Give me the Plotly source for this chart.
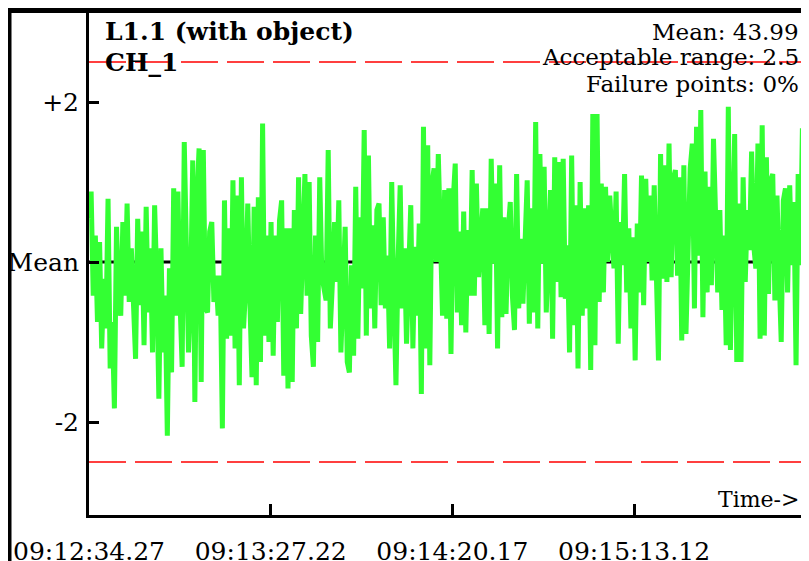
import plotly.graph_objects as go

# ---- data (deviation from mean) ----
seg1 = [0.54, 0.88, -0.42, 0.33, -0.75, 0.25, -1.08, -0.21, -0.83, 0.79, -1.33, -0.75, -1.83, 0.44,
        -0.50, -0.67, 0.50, -0.42, 0.73, -0.50, 0.17, -0.71, -1.21, 0.54, -0.54, 0.38, -1.04, 0.69,
        -0.63, 0.17, -1.13, 0.71, -0.21, -1.71, 0.17, -1.13, -0.42, -2.17, -0.08, -1.38, 0.92, -0.67,
        0.88, -0.50, -1.31, 1.50, 0.25, -1.13, -0.42, 1.27, -1.75, 0.79, 1.42, -1.50, 1.40]
seg2 = [-0.58, -0.63, 0.38, 0.50, -0.50, -0.17, -0.67, -0.17, -2.08, 0.77, -0.96, 0.42, -0.92, 1.02,
        -1.08, 0.83, -1.54, 1.06, -0.83, -0.33, 0.73, -0.50, -1.44, 0.69, -1.54, 0.81, -1.25, 1.73,
        -0.92, 0.33, -1.00, 0.50, -1.17, 0.33, -0.75, 0.52, 0.77, -1.42, 0.42, -1.58, 0.42, -1.50,
        0.65, -0.83, 1.06, -0.65, 0.50, 1.10, -0.42, 1.00, -0.92, -1.31, 0.33, -1.00, 1.06]
seg3 = [-0.17, -0.33, -0.48, 1.40, -0.83, -0.25, 0.50, -0.25, 0.77, -1.13, -0.13, 0.44, -1.25, -1.38,
        -0.04, -1.17, 0.94, -0.96, 0.56, -0.33, 1.65, -0.92, 1.33, -0.58, 0.46, -0.83, 0.65, 0.73,
        -0.54, 0.56, -0.58, 0.08, -1.08, 1.00, -0.42, -1.54, 0.00, 0.96, -0.58, 0.17, -1.02, 0.17,
        0.71, -1.08, 0.19, -0.67, 0.48, -1.65, 1.69, -1.08, 1.46, -1.29, 0.98, 1.17, 0.00, 1.35,
        -0.08, -0.67, 0.90]
seg4 = [-0.71, 0.92, -1.15, 0.75, 1.23, -0.63, 0.38, -0.79, 0.63, -0.88, 0.40, -0.42, 1.15, -0.42,
        0.98, -0.19, 0.40, 0.67, -0.79, 0.67, -0.90, 1.29, -0.02, 0.98, -1.08, 1.21, -0.69, 0.56,
        -0.65, 0.38, 0.75, -0.42, -0.85, 1.10, -0.58, 0.29, -0.52, 0.13, 1.02, -0.77, 0.67, -0.63,
        1.75, -0.83, 1.35, -0.02, 1.19, -0.63, 0.04, 0.90, -0.96, 1.31, -0.25, 1.25, -0.44, 1.29,
        -0.46, 0.21, -1.13, 1.33]
seg5 = [-0.79, 0.71, -1.33, 1.00, -0.67, 0.67, -0.58, 0.71, -1.35, 1.85, -1.04, 1.85, -0.50, 0.98,
        -0.38, 0.94, 0.00, 0.83, 0.33, -0.08, 0.88, -1.02, 0.50, -0.04, 1.10, -0.38, 0.42, -0.83,
        0.31, -1.23, 0.48, -0.38, 1.08, -0.54, 1.04, 0.00, 0.83, -0.23, 0.96, 0.02, -1.23, 1.35,
        -0.21, 1.21, -0.25, 1.48, -0.19, 1.04, 1.15, -0.17, 1.06, -0.98, 1.21, -0.90, 0.17, 1.17, 1.48]
seg6 = [-0.58, 1.69, 0.08, 1.90, -0.69, 1.13, -0.38, 0.94, -0.29, 1.54, 0.33, -0.38, 0.65, -0.60,
        0.33, -1.04, 1.94, -1.10, 0.29, 1.60, -1.25, 0.73, -1.25, 1.06, -0.25, 0.65, 0.15, 1.38,
        0.21, -0.08, 1.48, -0.96, 1.71, -0.92, 1.31, -0.40, 1.02, 1.10, -0.48, 0.83, -0.15, -1.00,
        0.77, 0.92, -0.38, 0.96, -0.04, 0.75, -1.29, 1.10, -0.04, 1.67, -0.33, 0.92, -0.42]
deviation = seg1 + seg2 + seg3 + seg4 + seg5 + seg6

SAMPLE_INTERVAL = 0.617          # seconds between samples
time_s = [i * SAMPLE_INTERVAL for i in range(len(deviation))]

tick_seconds = [0.0, 52.95, 105.90, 158.85]
tick_labels = ["09:12:34.27", "09:13:27.22", "09:14:20.17", "09:15:13.12"]
y_tickvals = [2, 0, -2]
y_ticktext = ["+2", "Mean", "-2"]
accept_range = 2.5
mean_value = 43.99
failure_pct = 0

# page has an 8px body margin: figure occupies window pixels 8..809 x 8..561
OFF = 8
W, H = 809 - OFF, 561 - OFF
FONT = "DejaVu Serif"


def px(X):
    return (X - OFF) / W


def py(Y):
    return 1 - (Y - OFF) / H


fig = go.Figure()
fig.add_trace(go.Scatter(x=time_s, y=deviation, mode="lines",
                         line=dict(color="#33ff33", width=5), hoverinfo="skip",
                         showlegend=False))

x_end = 720 / (181.67 / 52.95)
fig.update_xaxes(range=[0, x_end], domain=[px(89), 1], showgrid=False, zeroline=False,
                 automargin=False,
                 showline=True, linecolor="black", linewidth=3,
                 tickvals=tick_seconds, ticktext=tick_labels, ticks="inside",
                 ticklen=11, tickwidth=3, tickcolor="black",
                 tickfont=dict(family=FONT, size=25, color="black"),
                 ticklabelstandoff=12)
fig.update_yaxes(range=[-(515 - 262) / 80, (262 - 10) / 80], domain=[py(515), py(10)],
                 automargin=False,
                 showgrid=False, zeroline=False, showline=True, linecolor="black", linewidth=3,
                 tickvals=y_tickvals, ticktext=y_ticktext, ticks="inside",
                 ticklen=10, tickwidth=3, tickcolor="black",
                 tickfont=dict(family=FONT, size=25, color="black"),
                 ticklabelstandoff=2)

shapes = [
    dict(type="line", xref="x domain", yref="y", x0=0, x1=1, y0=0, y1=0,
         line=dict(color="black", width=3), layer="below"),
    dict(type="line", xref="x domain", yref="y", x0=0, x1=1, y0=accept_range, y1=accept_range,
         line=dict(color="red", width=1.5, dash="37px,9px")),
    dict(type="line", xref="x domain", yref="y", x0=0, x1=1, y0=-accept_range, y1=-accept_range,
         line=dict(color="red", width=1.5, dash="37px,9px")),
    # outer frame (top and left)
    dict(type="line", xref="paper", yref="paper", x0=0, x1=1, y0=py(10), y1=py(10),
         line=dict(color="black", width=6)),
    dict(type="line", xref="paper", yref="paper", x0=px(9.5), x1=px(9.5), y0=1, y1=0,
         line=dict(color="black", width=4)),
]

annotations = [
    dict(text="<b>L1.1 (with object)</b>", x=px(103), y=py(32), xref="paper", yref="paper",
         xanchor="left", yanchor="middle", showarrow=False,
         font=dict(family=FONT, size=25, color="black")),
    dict(text="<b>CH_1</b>", x=px(103), y=py(62), xref="paper", yref="paper",
         xanchor="left", yanchor="middle", showarrow=False,
         font=dict(family=FONT, size=25, color="black")),
    dict(text=f"Mean: {mean_value:.2f}", x=px(801), y=py(32), xref="paper", yref="paper",
         xanchor="right", yanchor="middle", showarrow=False,
         font=dict(family=FONT, size=23, color="black")),
    dict(text=f"Acceptable range: {accept_range}", x=px(801), y=py(57), xref="paper", yref="paper",
         xanchor="right", yanchor="middle", showarrow=False,
         font=dict(family=FONT, size=23, color="black")),
    dict(text=f"Failure points: {failure_pct}%", x=px(801), y=py(84), xref="paper", yref="paper",
         xanchor="right", yanchor="middle", showarrow=False,
         font=dict(family=FONT, size=23, color="black")),
    dict(text="Time->", x=px(801), y=py(499), xref="paper", yref="paper",
         xanchor="right", yanchor="middle", showarrow=False,
         font=dict(family=FONT, size=22, color="black")),
]

fig.update_layout(width=W, height=H, margin=dict(l=0, r=0, t=0, b=0, autoexpand=False),
                  paper_bgcolor="white", plot_bgcolor="white",
                  shapes=shapes, annotations=annotations, showlegend=False)

fig.write_html("out.html")
